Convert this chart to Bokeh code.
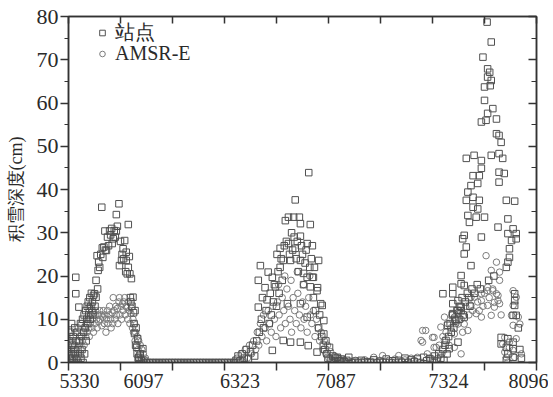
from bokeh.plotting import figure
from bokeh.models import (LinearAxis, FixedTicker, SingleIntervalTicker, Legend,
                          LegendItem, ColumnDataSource, Range1d)
from bokeh.embed import file_html
from bokeh.resources import INLINE

# ---------------- data (day index, snow depth cm) ----------------
# station (站点) – season 1
st1_x = [0,1,2,3,4,5,6,7,8,9,10,11,12,13,14,14,15,16,17,18,19,20,21,22,23,24,25,26,27,28,29,30,31,32,33,34,35,36,37,38,39,40,41,42,43,44,45,46,47,48,50,51,53,53,55,56,57,58,60,62,64,65,66,68,70,71,73,75,77,79,81,83,84,86,88,90,92,92,94,97,98,100,102,103,105,106,108,110,111,111,113,115,115,117,118,119,120,121,122,124,125,126,127,128,129,130,131,132,133,134,135,136,138,140,143,145]
st1_y = [3,5,1,7,0,2,9,4,1,6,3,0,8,2,19.7,15.9,5,1,7,3,0,12.8,5,2,9,1,6,3,10,0,7,11,2,8,12,5,10,13,9,14,11,12.5,15,10,13,16,12,14,11,15.5,15.9,13,15.1,19,24.7,17,21.3,23.2,22,25,35.9,26.5,24.3,26.7,30.4,26,25.9,29,27,30.4,29.5,31,27.5,28.6,30.5,29,34.2,30.4,31.5,36.7,22.4,28,23.6,25,26.3,24,28.2,21,23.6,25.5,20.5,31.9,22,24.5,20.5,15,14,19.4,13,15.1,11.5,9,6.7,12,4,8,3.5,2,5.5,1,1.2,0.5,2,0.3,3.2,0.5]
# station – gap 1
stg1_x = [150,156,162,168,174,180,186,192,198,204,210,216,222,228,234,240,246,252,258,264,270,276,282,288,294,300,306,312,318]
stg1_y = [0,0,0,0,0,0,0,0,0,0,0,0,0,0,0,0,0,0,0,0,0,0,0,0,0,0,0,0,0]
# station – season 2
st2_x = [322,326,330,334,338,342,346,350,354,358,362,365,365,367,369,371,373,375,378,380,382,384,386,388,390,392,392,394,396,398,400,401,403,405,407,407,409,411,413,413,415,417,419,421,423,423,425,427,427,429,431,433,434,436,436,438,440,442,444,446,446,446,446,446,448,450,452,452,455,457,459,459,459,461,462,464,465,465,467,469,469,471,471,473,475,478,478,479,481,481,483,485,487,488,490,491,491,493,495,497,499,502,505,508,511,514,517,521,525,530,535,539]
st2_y = [0.5,1.5,0.3,2,1,3,0.8,2.5,4,1.5,5,12.8,19,7,22.4,10,15,8,17.3,12,14.5,20.9,9,16,11,19.7,2.8,14,18,17.5,13,25,21,16,26.4,22,24,19,23.6,5.1,27,32.8,28,13.6,33.6,27.5,25,4.7,23.6,30,26,33.6,29,37.6,26.4,24,28,21,33.6,32.1,29.2,23.6,13.6,4.7,27,25,20.6,18,23,26,27.5,19.7,10.5,3.9,43.9,22,31.9,17.5,24,27,19.7,15,19.7,22,12,16.6,2.4,17.3,23.6,8,11,13.6,6,13.2,4,9.7,6.6,3,5,2,1,3.5,0.5,1.5,0.3,1,1.2,0.4,0.8,0.2,0.5,1.2]
# station – gap 2
stg2_x = [545,551,557,563,569,575,581,587,593,599,605,611,617,623,629,635,641,647,653,659,665,671,677,683,689,695]
stg2_y = [0,0.3,0,0.5,0,0.2,0,0.6,0,0.3,0,0.8,0,0.4,0,0.5,0,1,0,0.6,0.2,0.8,0,1.2,0.4,0.9]
# station – season 3
st3_x = [700,704,708,712,716,720,720,722,724,726,728,729,731,732,734,736,738,739,739,739,739,741,743,745,747,749,749,749,751,753,755,755,755,755,757,758,759,761,761,761,761,763,765,765,765,767,768,768,770,771,772,774,774,776,778,778,778,780,781,784,786,787,787,790,790,792,794,794,794,794,797,800,800,800,803,805,806,806,806,808,810,811,813,813,813,816,818,823,823,826,828,828,828,828,832,832,832,835,838,842,842,842,842,845,845,845,845,845,848,848,852,855,855,855,855,855,858,858,858,858,861,861,861,865,868,871]
st3_y = [0.5,1.5,0.3,2,1,3,15.9,0.5,4,5.1,2,8.6,6,3.2,9,7,11,17.4,15.9,13.6,11.3,8,10,9.7,12,14.3,12,4.7,10,13,20.1,18.2,12.8,12,15,28.6,11,29.4,25.1,17.8,10.5,14,47.2,37.5,26.7,16,39.4,34,15,32.4,13,40.9,22.4,17,43.2,38.2,35.9,47.9,16,33.6,18,41.4,35.5,43.2,37.5,17,55.6,46.7,44.9,29,70.6,63.7,60.6,33.6,56,78.7,67.9,66,57.6,19,67.1,64,74.1,65.2,47.9,58.7,20,56.3,52.9,31.3,52.5,48.3,44,41.7,50.9,5.8,4.3,47.2,43.7,37.5,22,3.5,0.5,33.2,29.8,23.2,5.5,2,26.3,24.3,28.2,30.9,10.9,4.7,3.2,1.2,37.3,15.9,14.3,13.2,29.8,28.6,10.9,8,3,1]

# AMSR-E – season 1
am1_x = [0,2,3,5,6,8,9,10,12,13,15,16,18,19,21,22,24,25,27,28,30,31,33,34,36,37,39,40,42,43,45,46,48,49,51,52,54,55,57,58,60,61,63,64,66,67,69,70,72,73,75,76,78,79,81,82,84,85,86,88,89,91,92,94,95,97,98,99,101,102,104,105,107,108,109,111,112,114,115,117,118,120,121,123,124,125,127,128,129,131,132,134,135,137,138,140,141,143,144,146,148]
am1_y = [4,2,6,1,3,5,0.5,2,4,7,3,1,5,8,4,6,3,9,5,7,4,8,6,9,7,10,8,6,9,11,8,10,7,11.5,9,12,10,8,11,9.5,12,10,11,8.5,10.5,12,9,11,7,10,12,9,11,13,10,8,11.5,9,15,12,10,13,11,12.5,9,14,15,11,13,10,13.6,12,14,15,11,13,12.7,10,14,12,9,11.3,12.7,8,10,7,9,5,7,4,6,3,5,2,4,1,3,0.5,2,0,1]
# AMSR-E – gap 1
amg1_x = [152,158,164,170,176,182,188,194,200,206,212,218,224,230,236,242,248,254,260,266,272,278,284,290,296,302,308,314]
amg1_y = [0,0,0,0,0,0,0,0,0,0,0,0,0,0,0,0,0,0,0,0,0,0,0,0,0,0,0,0]
# AMSR-E – season 2
am2_x = [320,324,328,332,336,340,344,348,352,356,360,363,366,369,372,375,378,381,384,387,390,393,396,399,402,404,405,408,411,414,416,417,420,423,426,428,429,432,435,438,440,441,444,447,450,452,453,456,459,462,464,465,468,471,474,477,480,483,486,489,492,495,498,501,504,508,512,516,520,525,530,535]
am2_y = [0,1,0.5,2,0.5,3,1,4,2,5,3,7,4,9,6,11,8,5,12,9,7,13,10,6,14,18,11,8,15,12,20,9,17,13,10,19,7,15,12,9,21,16,11,8,14,18,10,13,7,15,20,11,9,12,6,10,8,5,7,3,5,2,4,1,2.5,0.5,1.5,0.3,1,0.2,0.6,0]
# AMSR-E – gap 2
amg2_x = [540,546,552,558,564,570,576,582,587,593,599,604,610,616,622,628,635,641,647,653,659,665,671,678,681,681,687,690,694]
amg2_y = [0.3,0,0.5,0,0.2,0.6,0,0.3,1.2,0,0.4,1.6,0.2,0.5,0,0.8,1.6,0.3,0.6,0.2,1,0.5,1.2,5.1,7.4,4.7,7.4,2,1]
# AMSR-E – season 3
am3_x = [700,703,703,707,710,713,716,718,720,723,723,726,729,732,735,738,742,742,742,745,749,752,755,755,758,761,764,768,770,774,774,777,781,784,787,790,794,794,794,797,800,803,806,806,806,809,813,813,816,816,819,819,823,823,826,826,829,829,829,832,835,839,839,842,845,848,848,852,855,855,855,855,858,861,861,865,868,871]
am3_y = [5.8,5.8,3.5,3.5,1,4,8.2,2,6,10.5,5.1,7,9,4,8,11,10.5,6.6,3.5,9,8.9,12,2,10,7,8.9,13,7.4,11,13.2,15.1,12,15.1,11.3,14,12,14.3,10.5,15.9,13,16,24.7,16.6,13.2,17.4,15,10.9,21.3,17,16.6,12.8,13.9,23.2,15.9,14.3,15.5,20.9,19,13.6,11,4.3,5.8,2.4,1.2,0.1,4.7,3.5,10.9,16.6,13.2,8.6,2.8,1.2,15.1,5.5,10.5,8.9,2]

x_ticks = [0, 100, 200, 300, 400, 500, 600, 700, 800, 900]
x_label_pos = [21, 144, 330, 514, 731, 892]
x_label_txt = ["5330", "6097", "6323", "7087", "7324", "8096"]
y_label = "积雪深度(cm)"
series_names = ["站点", "AMSR-E"]

# ---------------- figure ----------------
FONT = "Liberation Serif"
TXT = "#2a2a2a"
AX = "#333333"

p = figure(frame_width=468, frame_height=346,
           x_range=Range1d(0, 900), y_range=Range1d(0, 80),
           x_axis_type=None, y_axis_type=None,
           output_backend="svg", toolbar_location=None,
           min_border_left=68, min_border_right=12, min_border_top=16, min_border_bottom=0)
p.xgrid.visible = False
p.ygrid.visible = False
p.outline_line_color = AX
p.outline_line_width = 1.5
p.background_fill_color = "white"
p.border_fill_color = "white"

st_src = ColumnDataSource(dict(x=st1_x + stg1_x + st2_x + stg2_x + st3_x,
                               y=st1_y + stg1_y + st2_y + stg2_y + st3_y))
am_src = ColumnDataSource(dict(x=am1_x + amg1_x + am2_x + amg2_x + am3_x,
                               y=am1_y + amg1_y + am2_y + amg2_y + am3_y))

r_am = p.scatter("x", "y", source=am_src, marker="circle", size=6.5,
                 fill_color=None, line_color="#7c7c7c", line_width=1)
r_st = p.scatter("x", "y", source=st_src, marker="square", size=6.5,
                 fill_color=None, line_color="#505050", line_width=1)


def silent(ax):
    ax.major_label_text_color = None
    ax.major_label_text_font_size = "1px"
    ax.major_label_standoff = 0


# left axis
yl = LinearAxis(ticker=SingleIntervalTicker(interval=10, num_minor_ticks=2))
yl.major_tick_out = 8; yl.major_tick_in = 0
yl.minor_tick_out = 4; yl.minor_tick_in = 0
yl.axis_line_color = AX; yl.axis_line_width = 1.5
yl.major_tick_line_color = AX; yl.major_tick_line_width = 1.5
yl.minor_tick_line_color = AX; yl.minor_tick_line_width = 1.2
yl.major_label_text_font = FONT; yl.major_label_text_font_size = "22px"
yl.major_label_text_color = TXT; yl.major_label_standoff = 2
yl.axis_label = y_label
yl.axis_label_text_font = FONT; yl.axis_label_text_font_size = "18px"
yl.axis_label_text_font_style = "normal"; yl.axis_label_text_color = TXT
yl.axis_label_standoff = 8
p.add_layout(yl, "left")

# right axis (inward ticks, no labels)
yr = LinearAxis(ticker=SingleIntervalTicker(interval=10, num_minor_ticks=2))
yr.major_tick_out = 0; yr.major_tick_in = 8
yr.minor_tick_out = 0; yr.minor_tick_in = 5
yr.axis_line_color = AX; yr.axis_line_width = 1.5
yr.major_tick_line_color = AX; yr.major_tick_line_width = 1.5
yr.minor_tick_line_color = AX; yr.minor_tick_line_width = 1.2
silent(yr)
p.add_layout(yr, "right")

# bottom tick marks
xb = LinearAxis(ticker=FixedTicker(ticks=x_ticks, minor_ticks=[]))
xb.major_tick_out = 8; xb.major_tick_in = 0
xb.axis_line_color = AX; xb.axis_line_width = 1.5
xb.major_tick_line_color = AX; xb.major_tick_line_width = 1.5
silent(xb)
p.add_layout(xb, "below")

# bottom labels
xl = LinearAxis(ticker=FixedTicker(ticks=x_label_pos, minor_ticks=[]))
xl.major_label_overrides = {pos: t for pos, t in zip(x_label_pos, x_label_txt)}
xl.major_tick_line_color = None; xl.axis_line_color = None
xl.major_tick_out = 0; xl.major_tick_in = 0
xl.major_label_text_font = FONT; xl.major_label_text_font_size = "20px"
xl.major_label_text_color = TXT; xl.major_label_standoff = 3
p.add_layout(xl, "below")

# top axis (inward ticks)
xt = LinearAxis(ticker=FixedTicker(ticks=x_ticks, minor_ticks=[]))
xt.major_tick_out = 0; xt.major_tick_in = 7
xt.axis_line_color = AX; xt.axis_line_width = 1.5
xt.major_tick_line_color = AX; xt.major_tick_line_width = 1.5
silent(xt)
p.add_layout(xt, "above")

# legend: one single-row legend per series
for name, rend, vy in ((series_names[0], r_st, 316), (series_names[1], r_am, 297)):
    lg = Legend(items=[LegendItem(label=name, renderers=[rend])],
                location=(27, vy), padding=0, margin=0, spacing=0,
                glyph_width=14, glyph_height=19, label_height=19,
                label_standoff=6, label_text_font=FONT,
                label_text_font_size="20px", label_text_color=TXT,
                border_line_alpha=0, background_fill_alpha=0)
    p.add_layout(lg)

open("out.html", "w").write(file_html(p, INLINE))
